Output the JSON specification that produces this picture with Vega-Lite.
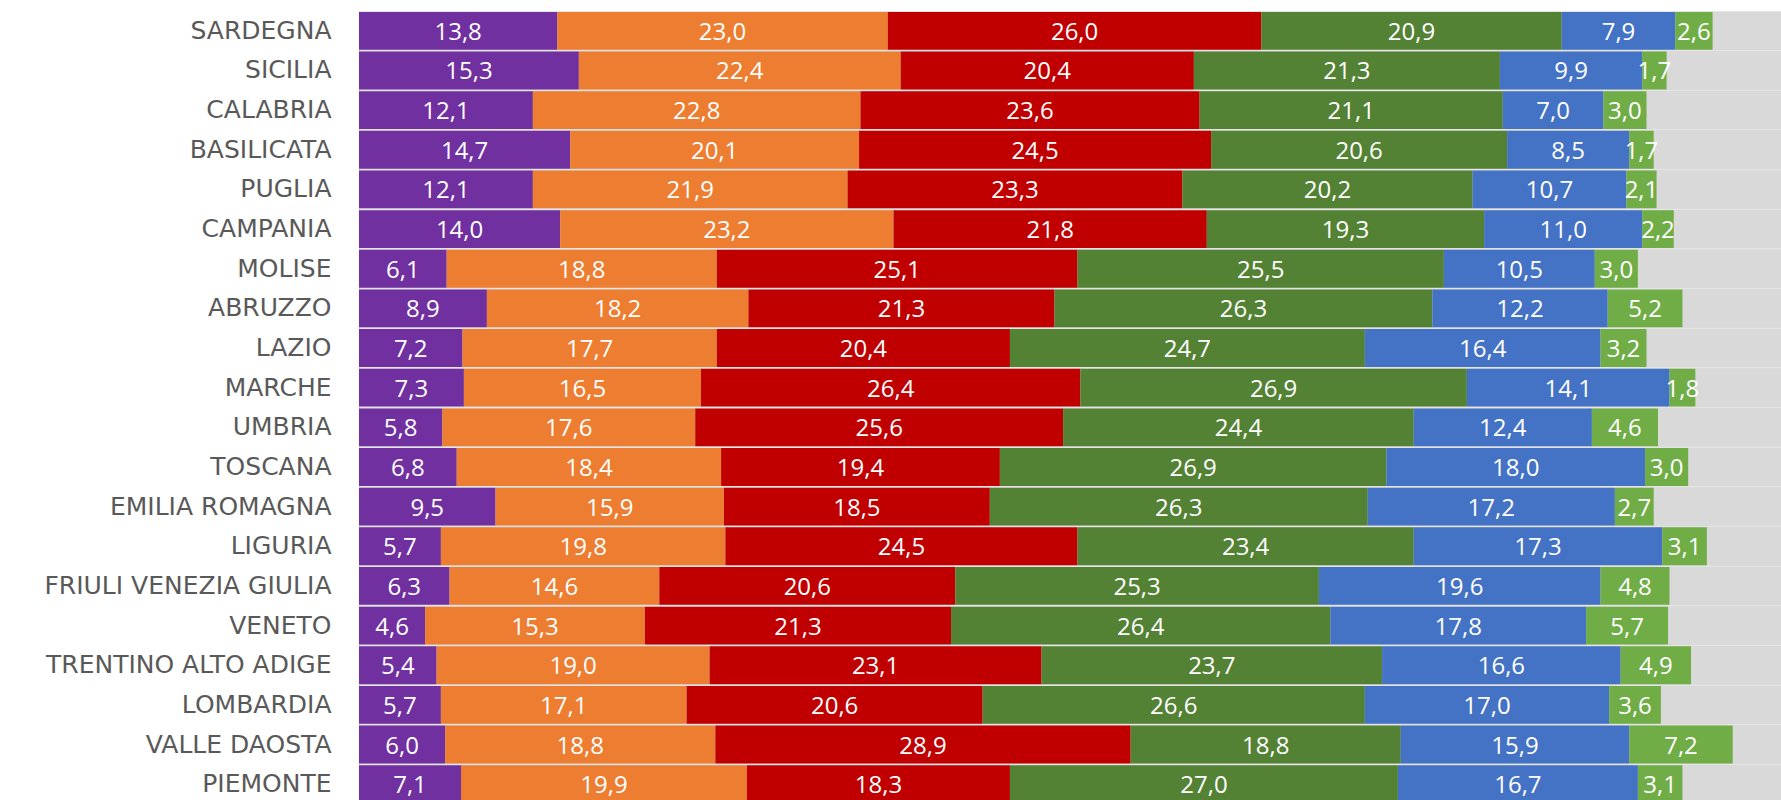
{
  "$schema": "https://vega.github.io/schema/vega-lite/v6.json",
  "autosize": "none",
  "padding": {"left": 359, "top": 11, "right": 0, "bottom": 0},
  "width": 1422,
  "height": 789,
  "background": "white",
  "config": {
    "view": {"fill": "#e4e4e4", "stroke": null},
    "locale": {"number": {"decimal": ",", "thousands": ".", "grouping": [3], "currency": ["€", ""]}}
  },
  "data": {
    "values": [
      {"r": "SARDEGNA", "k": 1, "v": 13.8}, {"r": "SARDEGNA", "k": 2, "v": 23.0}, {"r": "SARDEGNA", "k": 3, "v": 26.0}, {"r": "SARDEGNA", "k": 4, "v": 20.9}, {"r": "SARDEGNA", "k": 5, "v": 7.9}, {"r": "SARDEGNA", "k": 6, "v": 2.6},
      {"r": "SICILIA", "k": 1, "v": 15.3}, {"r": "SICILIA", "k": 2, "v": 22.4}, {"r": "SICILIA", "k": 3, "v": 20.4}, {"r": "SICILIA", "k": 4, "v": 21.3}, {"r": "SICILIA", "k": 5, "v": 9.9}, {"r": "SICILIA", "k": 6, "v": 1.7},
      {"r": "CALABRIA", "k": 1, "v": 12.1}, {"r": "CALABRIA", "k": 2, "v": 22.8}, {"r": "CALABRIA", "k": 3, "v": 23.6}, {"r": "CALABRIA", "k": 4, "v": 21.1}, {"r": "CALABRIA", "k": 5, "v": 7.0}, {"r": "CALABRIA", "k": 6, "v": 3.0},
      {"r": "BASILICATA", "k": 1, "v": 14.7}, {"r": "BASILICATA", "k": 2, "v": 20.1}, {"r": "BASILICATA", "k": 3, "v": 24.5}, {"r": "BASILICATA", "k": 4, "v": 20.6}, {"r": "BASILICATA", "k": 5, "v": 8.5}, {"r": "BASILICATA", "k": 6, "v": 1.7},
      {"r": "PUGLIA", "k": 1, "v": 12.1}, {"r": "PUGLIA", "k": 2, "v": 21.9}, {"r": "PUGLIA", "k": 3, "v": 23.3}, {"r": "PUGLIA", "k": 4, "v": 20.2}, {"r": "PUGLIA", "k": 5, "v": 10.7}, {"r": "PUGLIA", "k": 6, "v": 2.1},
      {"r": "CAMPANIA", "k": 1, "v": 14.0}, {"r": "CAMPANIA", "k": 2, "v": 23.2}, {"r": "CAMPANIA", "k": 3, "v": 21.8}, {"r": "CAMPANIA", "k": 4, "v": 19.3}, {"r": "CAMPANIA", "k": 5, "v": 11.0}, {"r": "CAMPANIA", "k": 6, "v": 2.2},
      {"r": "MOLISE", "k": 1, "v": 6.1}, {"r": "MOLISE", "k": 2, "v": 18.8}, {"r": "MOLISE", "k": 3, "v": 25.1}, {"r": "MOLISE", "k": 4, "v": 25.5}, {"r": "MOLISE", "k": 5, "v": 10.5}, {"r": "MOLISE", "k": 6, "v": 3.0},
      {"r": "ABRUZZO", "k": 1, "v": 8.9}, {"r": "ABRUZZO", "k": 2, "v": 18.2}, {"r": "ABRUZZO", "k": 3, "v": 21.3}, {"r": "ABRUZZO", "k": 4, "v": 26.3}, {"r": "ABRUZZO", "k": 5, "v": 12.2}, {"r": "ABRUZZO", "k": 6, "v": 5.2},
      {"r": "LAZIO", "k": 1, "v": 7.2}, {"r": "LAZIO", "k": 2, "v": 17.7}, {"r": "LAZIO", "k": 3, "v": 20.4}, {"r": "LAZIO", "k": 4, "v": 24.7}, {"r": "LAZIO", "k": 5, "v": 16.4}, {"r": "LAZIO", "k": 6, "v": 3.2},
      {"r": "MARCHE", "k": 1, "v": 7.3}, {"r": "MARCHE", "k": 2, "v": 16.5}, {"r": "MARCHE", "k": 3, "v": 26.4}, {"r": "MARCHE", "k": 4, "v": 26.9}, {"r": "MARCHE", "k": 5, "v": 14.1}, {"r": "MARCHE", "k": 6, "v": 1.8},
      {"r": "UMBRIA", "k": 1, "v": 5.8}, {"r": "UMBRIA", "k": 2, "v": 17.6}, {"r": "UMBRIA", "k": 3, "v": 25.6}, {"r": "UMBRIA", "k": 4, "v": 24.4}, {"r": "UMBRIA", "k": 5, "v": 12.4}, {"r": "UMBRIA", "k": 6, "v": 4.6},
      {"r": "TOSCANA", "k": 1, "v": 6.8}, {"r": "TOSCANA", "k": 2, "v": 18.4}, {"r": "TOSCANA", "k": 3, "v": 19.4}, {"r": "TOSCANA", "k": 4, "v": 26.9}, {"r": "TOSCANA", "k": 5, "v": 18.0}, {"r": "TOSCANA", "k": 6, "v": 3.0},
      {"r": "EMILIA ROMAGNA", "k": 1, "v": 9.5}, {"r": "EMILIA ROMAGNA", "k": 2, "v": 15.9}, {"r": "EMILIA ROMAGNA", "k": 3, "v": 18.5}, {"r": "EMILIA ROMAGNA", "k": 4, "v": 26.3}, {"r": "EMILIA ROMAGNA", "k": 5, "v": 17.2}, {"r": "EMILIA ROMAGNA", "k": 6, "v": 2.7},
      {"r": "LIGURIA", "k": 1, "v": 5.7}, {"r": "LIGURIA", "k": 2, "v": 19.8}, {"r": "LIGURIA", "k": 3, "v": 24.5}, {"r": "LIGURIA", "k": 4, "v": 23.4}, {"r": "LIGURIA", "k": 5, "v": 17.3}, {"r": "LIGURIA", "k": 6, "v": 3.1},
      {"r": "FRIULI VENEZIA GIULIA", "k": 1, "v": 6.3}, {"r": "FRIULI VENEZIA GIULIA", "k": 2, "v": 14.6}, {"r": "FRIULI VENEZIA GIULIA", "k": 3, "v": 20.6}, {"r": "FRIULI VENEZIA GIULIA", "k": 4, "v": 25.3}, {"r": "FRIULI VENEZIA GIULIA", "k": 5, "v": 19.6}, {"r": "FRIULI VENEZIA GIULIA", "k": 6, "v": 4.8},
      {"r": "VENETO", "k": 1, "v": 4.6}, {"r": "VENETO", "k": 2, "v": 15.3}, {"r": "VENETO", "k": 3, "v": 21.3}, {"r": "VENETO", "k": 4, "v": 26.4}, {"r": "VENETO", "k": 5, "v": 17.8}, {"r": "VENETO", "k": 6, "v": 5.7},
      {"r": "TRENTINO ALTO ADIGE", "k": 1, "v": 5.4}, {"r": "TRENTINO ALTO ADIGE", "k": 2, "v": 19.0}, {"r": "TRENTINO ALTO ADIGE", "k": 3, "v": 23.1}, {"r": "TRENTINO ALTO ADIGE", "k": 4, "v": 23.7}, {"r": "TRENTINO ALTO ADIGE", "k": 5, "v": 16.6}, {"r": "TRENTINO ALTO ADIGE", "k": 6, "v": 4.9},
      {"r": "LOMBARDIA", "k": 1, "v": 5.7}, {"r": "LOMBARDIA", "k": 2, "v": 17.1}, {"r": "LOMBARDIA", "k": 3, "v": 20.6}, {"r": "LOMBARDIA", "k": 4, "v": 26.6}, {"r": "LOMBARDIA", "k": 5, "v": 17.0}, {"r": "LOMBARDIA", "k": 6, "v": 3.6},
      {"r": "VALLE DAOSTA", "k": 1, "v": 6.0}, {"r": "VALLE DAOSTA", "k": 2, "v": 18.8}, {"r": "VALLE DAOSTA", "k": 3, "v": 28.9}, {"r": "VALLE DAOSTA", "k": 4, "v": 18.8}, {"r": "VALLE DAOSTA", "k": 5, "v": 15.9}, {"r": "VALLE DAOSTA", "k": 6, "v": 7.2},
      {"r": "PIEMONTE", "k": 1, "v": 7.1}, {"r": "PIEMONTE", "k": 2, "v": 19.9}, {"r": "PIEMONTE", "k": 3, "v": 18.3}, {"r": "PIEMONTE", "k": 4, "v": 27.0}, {"r": "PIEMONTE", "k": 5, "v": 16.7}, {"r": "PIEMONTE", "k": 6, "v": 3.1}
    ]
  },
  "transform": [
    {"stack": "v", "groupby": ["r"], "sort": [{"field": "k", "order": "ascending"}], "as": ["v0", "v1"]},
    {"calculate": "(datum.v0 + datum.v1) / 2", "as": "mid"}
  ],
  "encoding": {
    "y": {
      "field": "r",
      "type": "nominal",
      "sort": null,
      "title": null,
      "scale": {"range": [0, 793], "paddingInner": 0.045, "paddingOuter": 0.0225},
      "axis": {
        "ticks": false,
        "domain": true,
        "domainColor": "#d0d0d0",
        "domainWidth": 1,
        "labelFont": "DejaVu Sans",
        "labelFontSize": 25,
        "labelColor": "#595959",
        "labelPadding": 28,
        "labelLimit": 400
      }
    }
  },
  "layer": [
    {
      "mark": {"type": "bar", "color": "#d9d9d9", "clip": true},
      "encoding": {
        "x": {"datum": 100, "type": "quantitative", "scale": {"domain": [0, 98.96], "nice": false, "zero": true}, "axis": null}
      }
    },
    {
      "mark": {"type": "bar", "clip": true},
      "encoding": {
        "x": {"field": "v0", "type": "quantitative", "axis": null},
        "x2": {"field": "v1"},
        "color": {
          "field": "k",
          "type": "nominal",
          "legend": null,
          "scale": {"domain": [1, 2, 3, 4, 5, 6], "range": ["#7030a0", "#ed7d31", "#c00000", "#548235", "#4472c4", "#70ad47"]}
        }
      }
    },
    {
      "mark": {"type": "text", "color": "white", "font": "Open Sans", "fontSize": 24, "align": "center", "baseline": "middle", "dy": 2, "clip": true},
      "encoding": {
        "x": {"field": "mid", "type": "quantitative", "axis": null},
        "text": {"field": "v", "type": "quantitative", "format": ".1f"}
      }
    }
  ]
}
